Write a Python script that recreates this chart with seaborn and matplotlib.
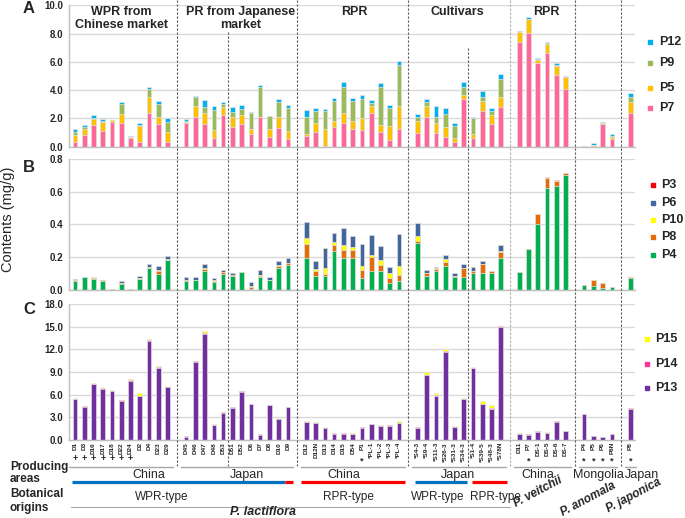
import numpy as np
import matplotlib.pyplot as plt
import matplotlib.transforms as mtrans
from matplotlib.lines import Line2D
import seaborn as sns

sns.set_style("white")
plt.rcParams["font.family"] = ["Liberation Sans", "DejaVu Sans"]

W, H = 685, 518

# ---- data -------------------------------------------------------------
samples = ["D1", "D3", "D16", "D17", "D18", "D22", "D24", "D2", "D4", "D23", "D29",
           "D45", "D46", "D47", "D48", "D53", "D51", "D52", "D6", "D7", "D8", "D10", "D9",
           "D12", "D12N", "D13", "D14", "D15", "D54", "P1", "PL-1", "PL-2", "PL-3", "PL-4",
           "S4-3", "S9-4", "S11-3", "S26-3", "S31-3", "S34-3", "S1-4", "S39-5", "S48-3", "S78N",
           "D11", "P7", "DS-1", "DS-5", "DS-6", "DS-7",
           "P4", "P5", "P6", "P6N",
           "P8"]
group_sizes = [11, 12, 11, 10, 6, 4, 1]
marks = ["+"] * 7 + [""] * 16 + [""] * 6 + ["*"] * 5 + ["*"] * 10 + ["", "*", "", "", "", ""] + ["*"] * 4 + ["*"]

# panel A (mg/g)
p7 = [0.35, 0.83, 1.53, 1.11, 1.77, 1.70, 0.64, 0.31, 2.36, 1.60, 0.31,
      1.65, 2.08, 1.60, 0.59, 2.24, 1.37, 1.60, 0.90, 2.08, 0.66, 1.34, 0.54,
      0.75, 1.06, 0.07, 1.42, 1.70, 1.27, 1.20, 2.36, 1.04, 0.47, 1.27,
      0.99, 2.08, 0.99, 0.71, 0.35, 3.40, 0.59, 2.52, 1.60, 2.83,
      7.43, 8.07, 5.90, 6.60, 5.07, 4.08,
      0.02, 0.02, 1.60, 0.54,
      2.41]
p5 = [0.48, 0.40, 0.43, 0.66, 0.12, 0.61, 0.02, 1.15, 1.13, 0.48, 0.75,
      0.10, 0.80, 0.76, 0.59, 0.54, 0.71, 0.64, 0.33, 0.04, 0.57, 0.78, 0.57,
      0.15, 0.59, 1.16, 0.40, 0.71, 0.57, 0.85, 0.54, 0.49, 1.02, 1.63,
      0.85, 0.80, 0.71, 0.66, 0.29, 0.28, 0.31, 0.71, 0.64, 0.66,
      0.66, 0.93, 0.23, 0.66, 0.66, 0.82,
      0.03, 0.10, 0.05, 0.17,
      0.77]
p9 = [0.23, 0.19, 0.04, 0.07, 0.00, 0.71, 0.05, 0.07, 0.57, 0.94, 0.66,
      0.05, 0.61, 0.47, 1.41, 0.22, 0.35, 0.40, 1.18, 2.08, 0.94, 1.04, 1.60,
      1.22, 0.85, 1.32, 1.43, 1.84, 1.39, 1.32, 0.17, 2.67, 1.27, 2.88,
      0.28, 0.30, 0.42, 0.94, 0.82, 0.52, 1.15, 0.31, 0.28, 1.30,
      0.04, 0.05, 0.05, 0.04, 0.07, 0.05,
      0.00, 0.00, 0.00, 0.04,
      0.31]
p12 = [0.17, 0.11, 0.24, 0.12, 0.00, 0.16, 0.04, 0.17, 0.19, 0.23, 0.28,
       0.15, 0.07, 0.47, 0.29, 0.16, 0.40, 0.33, 0.04, 0.19, 0.03, 0.21, 0.21,
       0.47, 0.26, 0.14, 0.22, 0.35, 0.21, 0.31, 0.26, 0.28, 0.21, 0.28,
       0.19, 0.22, 0.76, 0.40, 0.24, 0.35, 0.07, 0.38, 0.24, 0.35,
       0.05, 0.10, 0.09, 0.10, 0.14, 0.05,
       0.03, 0.12, 0.07, 0.12,
       0.33]

# panel B (mg/g)
p4 = [0.056, 0.077, 0.065, 0.055, 0.004, 0.034, 0.005, 0.065, 0.131, 0.097, 0.182,
      0.055, 0.060, 0.115, 0.048, 0.097, 0.083, 0.109, 0.006, 0.081, 0.060, 0.135, 0.152,
      0.198, 0.087, 0.087, 0.238, 0.194, 0.198, 0.075, 0.115, 0.115, 0.042, 0.055,
      0.285, 0.083, 0.113, 0.149, 0.079, 0.077, 0.101, 0.101, 0.101, 0.198,
      0.109, 0.248, 0.400, 0.620, 0.634, 0.703,
      0.028, 0.026, 0.014, 0.016,
      0.071]
p8 = [0.004, 0.000, 0.010, 0.003, 0.000, 0.006, 0.000, 0.004, 0.006, 0.020, 0.000,
      0.003, 0.000, 0.013, 0.008, 0.012, 0.006, 0.000, 0.014, 0.006, 0.000, 0.012, 0.010,
      0.081, 0.026, 0.010, 0.037, 0.048, 0.044, 0.048, 0.089, 0.037, 0.033, 0.034,
      0.012, 0.018, 0.016, 0.023, 0.008, 0.056, 0.014, 0.055, 0.014, 0.032,
      0.000, 0.000, 0.065, 0.063, 0.033, 0.008,
      0.004, 0.035, 0.026, 0.000,
      0.008]
p10 = [0.003, 0.004, 0.002, 0.000, 0.000, 0.000, 0.000, 0.004, 0.003, 0.003, 0.006,
       0.003, 0.000, 0.004, 0.003, 0.002, 0.002, 0.000, 0.004, 0.002, 0.000, 0.003, 0.003,
       0.036, 0.014, 0.038, 0.018, 0.035, 0.017, 0.024, 0.012, 0.030, 0.028, 0.056,
       0.034, 0.000, 0.002, 0.016, 0.000, 0.004, 0.000, 0.004, 0.000, 0.008,
       0.000, 0.000, 0.000, 0.000, 0.000, 0.000,
       0.000, 0.000, 0.000, 0.000,
       0.000]
p6 = [0.003, 0.000, 0.000, 0.000, 0.000, 0.012, 0.000, 0.010, 0.020, 0.025, 0.020,
      0.016, 0.021, 0.028, 0.012, 0.012, 0.011, 0.002, 0.024, 0.032, 0.017, 0.028, 0.031,
      0.101, 0.047, 0.122, 0.052, 0.099, 0.068, 0.136, 0.117, 0.089, 0.038, 0.198,
      0.079, 0.020, 0.012, 0.024, 0.014, 0.023, 0.026, 0.018, 0.000, 0.039,
      0.000, 0.000, 0.000, 0.000, 0.000, 0.000,
      0.000, 0.000, 0.000, 0.000,
      0.000]
p3 = [0.0] * 47 + [0.006, 0.003, 0.002] + [0.0] * 5

# panel C (mg/g)
p13 = [5.36, 4.39, 7.40, 6.78, 6.47, 5.19, 7.85, 5.75, 13.16, 9.57, 6.96,
       0.35, 10.28, 14.00, 1.95, 3.59, 4.26, 6.38, 4.70, 0.66, 4.57, 2.75, 4.30,
       2.35, 2.22, 1.55, 0.80, 0.80, 0.75, 1.60, 2.04, 1.82, 1.86, 2.17,
       1.60, 8.55, 5.85, 11.60, 1.68, 5.36, 9.49, 4.70, 4.12, 15.03,
       0.75, 0.66, 1.06, 0.89, 2.39, 1.10,
       3.37, 0.44, 0.31, 0.71,
       4.12]
p14 = [0.08, 0.09, 0.05, 0.05, 0.05, 0.04, 0.07, 0.05, 0.09, 0.08, 0.06,
       0.14, 0.12, 0.14, 0.04, 0.05, 0.04, 0.05, 0.09, 0.09, 0.04, 0.05, 0.05,
       0.05, 0.04, 0.05, 0.05, 0.05, 0.05, 0.04, 0.05, 0.04, 0.09, 0.05,
       0.04, 0.06, 0.11, 0.15, 0.04, 0.05, 0.05, 0.05, 0.13, 0.05,
       0.05, 0.04, 0.05, 0.04, 0.05, 0.05,
       0.05, 0.05, 0.03, 0.00,
       0.13]
p15 = [0.10, 0.00, 0.13, 0.08, 0.08, 0.04, 0.10, 0.35, 0.09, 0.19, 0.07,
       0.00, 0.00, 0.31, 0.05, 0.08, 0.04, 0.04, 0.00, 0.00, 0.04, 0.04, 0.04,
       0.04, 0.04, 0.04, 0.04, 0.04, 0.04, 0.04, 0.04, 0.04, 0.00, 0.22,
       0.04, 0.43, 0.20, 0.25, 0.05, 0.09, 0.16, 0.39, 0.32, 0.02,
       0.04, 0.00, 0.04, 0.04, 0.04, 0.04,
       0.04, 0.00, 0.00, 0.00,
       0.00]

panel_titles = ["WPR from\nChinese market", "PR from Japanese\nmarket", "RPR", "Cultivars", "RPR"]
areas = ["China", "Japan", "China", "Japan", "China", "Mongolia", "Japan"]
types = ["WPR-type", "RPR-type", "WPR-type", "RPR-type"]
species = ["P. veitchii", "P. anomala", "P. japonica"]

# ---- layout helpers ---------------------------------------------------
pos = []
s = 0
gaps = []
for n in group_sizes:
    pos.extend(range(s, s + n))
    s += n + 1
    gaps.append(s - 1)
gaps = gaps[:-1]
pos = np.array(pos, dtype=float)


def fy(py):
    return 1 - py / H


def rect(top, bottom):
    return [69 / W, fy(bottom), (635 - 69) / W, (bottom - top) / H]


fig = plt.figure(figsize=(W / 100, H / 100), dpi=100)
axA = fig.add_axes(rect(5.3, 146.7))
axB = fig.add_axes(rect(158.7, 290))
axC = fig.add_axes(rect(304.3, 439.7))


def stacked(ax, layers, colors):
    cum = np.cumsum(np.array(layers, dtype=float), axis=0)
    for k in range(len(layers) - 1, -1, -1):
        sns.barplot(x=pos, y=cum[k], native_scale=True, color=colors[k], width=0.5,
                    saturation=1, errorbar=None, linewidth=0.5, edgecolor="#e6e6e6", ax=ax)


def style_axis(ax, top, step):
    ax.set_xlim(-0.65, 60.35)
    ax.set_ylim(0, top)
    ticks = np.arange(0, top + step / 2, step)
    ax.set_yticks(ticks)
    ax.set_yticklabels([f"{v:.1f}" for v in ticks], fontsize=7, fontweight="bold")
    ax.set_xticks([])
    ax.set_xticks(np.arange(-0.5, 60.6, 1), minor=True)
    ax.tick_params(axis="x", which="minor", length=2.5, color="#bfbfbf", width=0.8,
                   labelbottom=False)
    ax.tick_params(axis="y", length=0, pad=4)
    ax.yaxis.grid(True, color="#d9d9d9", lw=1)
    ax.set_axisbelow(True)
    for side in ["top", "right"]:
        ax.spines[side].set_visible(False)
    for side in ["left", "bottom"]:
        ax.spines[side].set_color("#bfbfbf")
        ax.spines[side].set_linewidth(1)
    ax.set_xlabel("")
    ax.set_ylabel("")


colA = ["#FF6699", "#FFC000", "#9BBB59", "#00B0F0"]
colB = ["#00B050", "#E46C0A", "#FFFF00", "#40689E", "#FF0000"]
colC = ["#7030A0", "#FF3399", "#FFFF00"]

stacked(axA, [p7, p5, p9, p12], colA)
stacked(axB, [p4, p8, p10, p6, p3], colB)
stacked(axC, [p13, p14, p15], colC)
style_axis(axA, 10, 2)
style_axis(axB, 0.8, 0.2)
style_axis(axC, 18, 3)

bx = mtrans.blended_transform_factory(axC.transData, fig.transFigure)


def dtext(xd, py, s, **kw):
    fig.text(xd, fy(py), s, transform=bx, **kw)


def dline(x0, x1, py, **kw):
    fig.add_artist(Line2D([x0, x1], [fy(py), fy(py)], transform=bx, **kw))


# dashed separators
for g in gaps:
    c = "#a6a6a6" if g == 47 else "#595959"
    fig.add_artist(Line2D([g, g], [fy(0), fy(466)], transform=bx, color=c,
                          lw=0.8, ls=(0, (2, 1.6))))
for g, top in [(16.5, 32), (42.5, 48)]:
    fig.add_artist(Line2D([g, g], [fy(top), fy(466)], transform=bx, color="#595959",
                          lw=0.8, ls=(0, (2, 1.6))))

# panel A titles
for t, xd in zip(panel_titles, [5, 17.9, 30.2, 41.3, 50.9]):
    dtext(xd, 18.5 if "\n" in t else 12, t, ha="center", va="center", fontsize=9,
          fontweight="bold", linespacing=1.15)

# panel letters & y label
for lab, py in [("A", 8.5), ("B", 168), ("C", 309)]:
    fig.text(29 / W, fy(py), lab, ha="center", va="center", fontsize=12, fontweight="bold")
fig.text(8 / W, fy(219), "Contents (mg/g)", rotation=90, ha="center", va="center",
         fontsize=10.5)

# legends
legs = [(["P12", "P9", "P5", "P7"], colA[::-1], [42.3, 63.3, 87.7, 108.3], 650, 659),
        (["P3", "P6", "P10", "P8", "P4"], colB[::-1], [185, 202.7, 220, 236.7, 255], 653, 661),
        (["P15", "P14", "P13"], colC[::-1], [339.3, 364, 388.3], 646.7, 655)]
for labels, cols, ys, mx, tx in legs:
    for lab, c, py in zip(labels, cols, ys):
        fig.add_artist(Line2D([mx / W], [fy(py)], marker="s", ms=3.3, color=c, ls="none",
                              transform=fig.transFigure))
        fig.text(tx / W, fy(py), lab, ha="left", va="center", fontsize=9,
                 fontweight="bold")

# sample labels & marks (long labels carry the star inside the label)
for xd, name, m in zip(pos, samples, marks):
    label = name
    if m == "*" and len(name) >= 4:
        label = "*" + name
        m = ""
    dtext(xd, 442, label, rotation=90, ha="center", va="top", fontsize=4.6,
          fontweight="bold")
    if m:
        dtext(xd, 459 if m == "+" else 461, m, ha="center", va="center", fontsize=6.5,
              fontweight="bold")

# group underlines
start = 0
for n in group_sizes:
    first, last = pos[start], pos[start + n - 1]
    dline(first - 0.6, last + 0.6, 466.5, color="#a6a6a6", lw=1)
    start += n

for t, xd in zip(areas, [8.0, 18.6, 29.0, 41.4, 50.0, 56.6, 61.3]):
    dtext(xd, 475, t, ha="center", va="center", fontsize=9)

for x0, x1, c in [(-0.32, 22.7, "#0070C0"), (22.7, 23.5, "#FF0000"),
                  (24.4, 35.7, "#FF0000"), (36.7, 42.3, "#0070C0"),
                  (42.9, 46.7, "#FF0000")]:
    dline(x0, x1, 482, color=c, lw=2.3, solid_capstyle="butt")

for t, xd in zip(types, [9.4, 29.5, 39.2, 45.4]):
    dtext(xd, 497, t, ha="center", va="center", fontsize=8.5)

dline(-0.4, 47.0, 507, color="#a6a6a6", lw=0.8)
dtext(20.3, 512, "P. lactiflora", ha="center", va="center", fontsize=9,
      fontweight="bold", style="italic")

for t, (px, py) in zip(species, [(538, 492), (588, 499), (634, 496)]):
    fig.text(px / W, fy(py), t, rotation=28, ha="center", va="center", fontsize=8.5,
             fontweight="bold", style="italic")

fig.text(10 / W, fy(473), "Producing\nareas", ha="left", va="center", fontsize=8.5,
         fontweight="bold", linespacing=1.0)
fig.text(10 / W, fy(501), "Botanical\norigins", ha="left", va="center", fontsize=8.5,
         fontweight="bold", linespacing=1.2)

fig.savefig("out.png", dpi=100)
